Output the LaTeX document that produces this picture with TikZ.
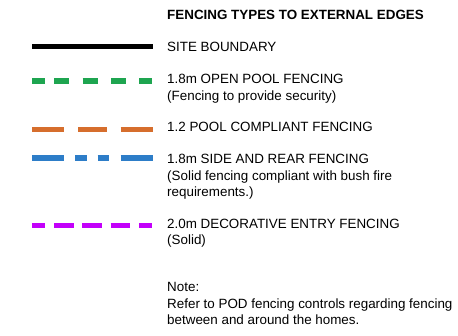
\documentclass[tikz,border=0pt]{standalone}
\usepackage{fontspec}
\setmainfont{Liberation Sans}
\definecolor{fgreen}{RGB}{30,165,80}
\definecolor{forange}{RGB}{214,110,45}
\definecolor{fblue}{RGB}{45,125,200}
\definecolor{fpurple}{RGB}{195,0,250}
\begin{document}
\begin{tikzpicture}[x=1pt,y=1pt,
  legendtext/.style={anchor=base west,inner sep=0pt,align=left,
    font=\fontsize{13.4}{16.3}\selectfont},
  fenceline/.style={line width=5.5pt,line cap=butt}]
\useasboundingbox (0,0) rectangle (458,336);

% heading
\node[legendtext,font=\fontsize{13.4}{16.3}\selectfont\bfseries] (title) at (167,336-19.5) {FENCING TYPES TO EXTERNAL EDGES};

% site boundary
\draw[fenceline,black] (32,336-46.5) -- (152.5,336-46.5);
\node[legendtext] (site) at (167,336-52) {SITE BOUNDARY};

% open pool fencing (multi-line nodes are placed by their last baseline)
\draw[fenceline,fgreen]
  (32,336-81) -- (45,336-81)
  (54.3,336-81) -- (69.3,336-81)
  (82.7,336-81) -- (97.7,336-81)
  (111,336-81) -- (126,336-81)
  (139.3,336-81) -- (152.3,336-81);
\node[legendtext] (pool) at (167,336-100.3) {1.8m OPEN POOL FENCING\\(Fencing to provide security)};

% pool compliant fencing
\draw[fenceline,forange]
  (32,336-129.5) -- (64,336-129.5)
  (78.3,336-129.5) -- (106.7,336-129.5)
  (120.7,336-129.5) -- (152.7,336-129.5);
\node[legendtext] (compliant) at (167,336-131.5) {1.2 POOL COMPLIANT FENCING};

% side and rear fencing
\draw[fenceline,fblue]
  (32,336-158) -- (64,336-158)
  (75,336-158) -- (86.7,336-158)
  (97.7,336-158) -- (109.3,336-158)
  (120.7,336-158) -- (152.7,336-158);
\node[legendtext] (side) at (167,336-196.6) {1.8m SIDE AND REAR FENCING\\(Solid fencing compliant with bush fire\\requirements.)};

% decorative entry fencing
\draw[fenceline,fpurple]
  (32,336-225.3) -- (45,336-225.3)
  (54.3,336-225.3) -- (74,336-225.3)
  (82.3,336-225.3) -- (102,336-225.3)
  (110.7,336-225.3) -- (130,336-225.3)
  (139.3,336-225.3) -- (152.3,336-225.3);
\node[legendtext] (entry) at (167,336-244.8) {2.0m DECORATIVE ENTRY FENCING\\(Solid)};

% note
\node[legendtext] (note) at (167,336-324.6) {Note:\\Refer to POD fencing controls regarding fencing\\between and around the homes.};
\end{tikzpicture}
\end{document}
